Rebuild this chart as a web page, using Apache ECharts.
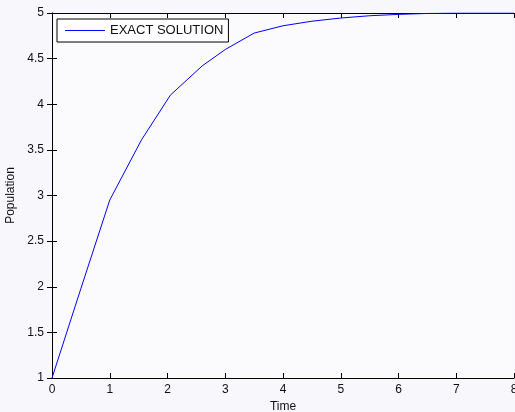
<!DOCTYPE html>
<html>
<head>
<meta charset="utf-8">
<script src="https://cdn.jsdelivr.net/npm/echarts@6/dist/echarts.min.js"></script>
<style>
html,body{margin:0;padding:0;background:#f8f8fc;}
#c{width:515px;height:412px;}
</style>
</head>
<body>
<div id="c"></div>
<script>
const seriesName = 'EXACT SOLUTION';
const timeValues = [0, 0.5, 1.0, 1.55, 2.05, 2.6, 3.0, 3.5, 4.0, 4.5, 5.0, 5.5, 6.0, 6.5, 7.0, 8.0];
const populationValues = [1, 1.98, 2.95, 3.61, 4.10, 4.42, 4.60, 4.78, 4.86, 4.91, 4.945, 4.97, 4.985, 4.995, 5.0, 5.0];
const xTicks = [0, 1, 2, 3, 4, 5, 6, 7, 8];
const yTicks = [1, 1.5, 2, 2.5, 3, 3.5, 4, 4.5, 5];
const xLabel = 'Time';
const yLabel = 'Population';

const data = timeValues.map((t, i) => [t, populationValues[i]]);
const font = 'Liberation Sans, Arial, sans-serif';
const axisLine = {show: true, lineStyle: {color: '#000', width: 1}};
const tick = {show: true, inside: true, length: 5, lineStyle: {color: '#000'}};

const chart = echarts.init(document.getElementById('c'));
chart.setOption({
  backgroundColor: '#f8f8fc',
  animation: false,
  grid: {left: 52, right: 1, top: 13, bottom: 34, containLabel: false, outerBoundsMode: 'none', backgroundColor: '#fbfbfe', show: true, borderWidth: 0},
  legend: {
    show: true,
    left: 57, top: 19,
    data: [{name: seriesName, icon: 'rect', itemStyle: {color: '#0000ff', borderWidth: 0}}],
    itemWidth: 40, itemHeight: 1,
    itemGap: 6,
    padding: [5, 5, 5, 8],
    borderColor: '#000', borderWidth: 1,
    backgroundColor: '#fff',
    textStyle: {fontFamily: font, fontSize: 13, color: '#111', padding: [0, 0, 0, 0]}
  },
  xAxis: [{
    type: 'value', min: 0, max: 8, interval: 1,
    name: xLabel, nameLocation: 'middle', nameGap: 21,
    nameTextStyle: {fontFamily: font, fontSize: 12, color: '#111'},
    axisLine: axisLine, axisTick: tick,
    axisLabel: {fontFamily: font, fontSize: 12, color: '#111', margin: 6, formatter: v => xTicks.includes(v) ? String(v) : ''},
    splitLine: {show: false}
  }, {
    type: 'value', min: 0, max: 8, interval: 1, position: 'top',
    axisLine: axisLine, axisTick: tick, axisLabel: {show: false}, splitLine: {show: false}
  }],
  yAxis: [{
    type: 'value', min: 1, max: 5, interval: 0.5,
    name: yLabel, nameLocation: 'middle', nameGap: 28,
    nameTextStyle: {fontFamily: font, fontSize: 12, color: '#111'},
    axisLine: axisLine, axisTick: tick,
    axisLabel: {fontFamily: font, fontSize: 12, color: '#111', margin: 8, formatter: v => yTicks.includes(v) ? String(v) : ''},
    splitLine: {show: false}
  }, {
    type: 'value', min: 1, max: 5, interval: 0.5, position: 'right',
    axisLine: axisLine, axisTick: tick, axisLabel: {show: false}, splitLine: {show: false}
  }],
  series: [{
    name: seriesName,
    type: 'line',
    data: data,
    symbol: 'none',
    smooth: false,
    lineStyle: {color: '#0000ff', width: 1},
    itemStyle: {color: '#0000ff'}
  }]
});
</script>
</body>
</html>
